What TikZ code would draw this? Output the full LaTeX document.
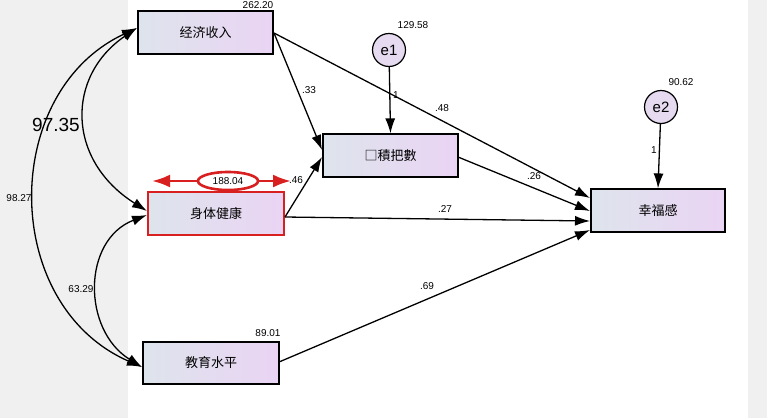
\documentclass[tikz,border=0pt]{standalone}
\usepackage{fontspec}
\setmainfont{Liberation Sans}
\newfontfamily\cjk{Noto Sans CJK SC}
\usetikzlibrary{arrows.meta,shapes.geometric}
\definecolor{panel}{HTML}{F0F0F0}
\definecolor{boxL}{HTML}{DEE4EC}
\definecolor{boxR}{HTML}{EAD4F4}
\definecolor{errfill}{HTML}{E6DAF0}
\definecolor{redc}{HTML}{D82020}
\tikzset{
  vbox/.style={draw=black, line width=1.2pt, minimum width=135pt, minimum height=43pt,
    left color=boxL, right color=boxR, inner sep=0pt, font=\cjk\fontsize{13}{13}\selectfont},
  err/.style={circle, draw=black, line width=1.2pt, fill=errfill, minimum size=33pt, inner sep=0pt,
    font=\fontsize{15}{15}\selectfont},
  arr/.style={-{Latex[length=15pt,width=10pt]}, line width=1.3pt},
  darr/.style={{Latex[length=15pt,width=10pt]}-{Latex[length=15pt,width=10pt]}, line width=1.3pt},
  lbl/.style={font=\fontsize{10}{10}\selectfont, inner sep=0pt},
}
\begin{document}
\begin{tikzpicture}[x=1pt,y=-1pt]
\clip (0,0) rectangle (767,418);
\fill[white] (0,0) rectangle (767,418);
\fill[panel] (0,0) rectangle (128,418);
\fill[panel] (748,0) rectangle (767,418);

% nodes
\node[vbox] (inc) at (205.5,32.5) {经济收入};
\node[err] (e1) at (389,50) {e1};
\node[vbox] (mid) at (390.5,155.5) {□積把數};
\node[err] (e2) at (661,107) {e2};
\node[vbox, minimum width=134pt] (hap) at (658,210.5) {幸福感};
\node[vbox, minimum width=136pt, draw=redc, line width=1.2pt] (hea) at (216,213.5) {身体健康};
\node[vbox, minimum width=136pt, minimum height=42pt] (edu) at (211,363) {教育水平};

% anchor coordinates
\coordinate (incR) at (274,33);
\coordinate (incL) at (137,28);
\coordinate (heaR) at (285,217);
\coordinate (heaL1) at (147,211);
\coordinate (heaL2) at (147,215);
\coordinate (eduL) at (142,367);
\coordinate (eduR) at (279,362);
\coordinate (midL1) at (322,150);
\coordinate (midL2) at (322,157);
\coordinate (midR) at (458,157);
\coordinate (hapL1) at (590,198);
\coordinate (hapL2) at (590,211);
\coordinate (hapL3) at (590,221);
\coordinate (hapL4) at (590,230);

% paths
\draw[arr] (incR) -- (midL1);
\draw[arr] (incR) -- (hapL1);
\draw[arr] (e1) -- (mid.north);
\draw[arr] (midR) -- (hapL2);
\draw[arr] (heaR) -- (midL2);
\draw[arr] (heaR) -- (hapL3);
\draw[arr] (eduR) -- (hapL4);
\draw[arr] (e2) -- (hap.north);

% covariances
\draw[darr] (incL) .. controls (66,76) and (66,160) .. (heaL1);
\draw[darr] (incL) .. controls (0,92) and (0,305) .. (eduL);
\draw[darr] (heaL2) .. controls (82,240) and (82,330) .. (eduL);

% red arrow
\coordinate (rL) at (152,181);
\coordinate (rR) at (291,181);
\draw[redc, line width=2.8pt, {Latex[length=18pt,width=13pt]}-{Latex[length=18pt,width=13pt]}] (rL) -- (rR);
\node[ellipse, draw=redc, line width=2.6pt, fill=white, minimum width=60pt, minimum height=18pt, inner sep=0pt, font=\fontsize{10}{10}\selectfont] (rv) at (228,181) {188.04};

% labels
\node[lbl] (l1) at (258,5) {262.20};
\node[lbl] (l2) at (413,25) {129.58};
\node[lbl] (l3) at (681,82) {90.62};
\node[lbl] (l4) at (268,333) {89.01};
\node[lbl] (l5) at (309,90) {.33};
\node[lbl] (l6) at (396,95) {1};
\node[lbl] (l7) at (442,108) {.48};
\node[lbl] (l8) at (534,176) {.26};
\node[lbl] (l9) at (296,180) {.46};
\node[lbl] (l10) at (445,209) {.27};
\node[lbl] (l11) at (427,286) {.69};
\node[lbl] (l12) at (654,150) {1};
\node[font=\fontsize{19}{19}\selectfont, inner sep=0pt] (l13) at (56,125) {97.35};
\node[lbl] (l14) at (19,198) {98.27};
\node[lbl] (l15) at (81,289) {63.29};
\end{tikzpicture}
\end{document}
